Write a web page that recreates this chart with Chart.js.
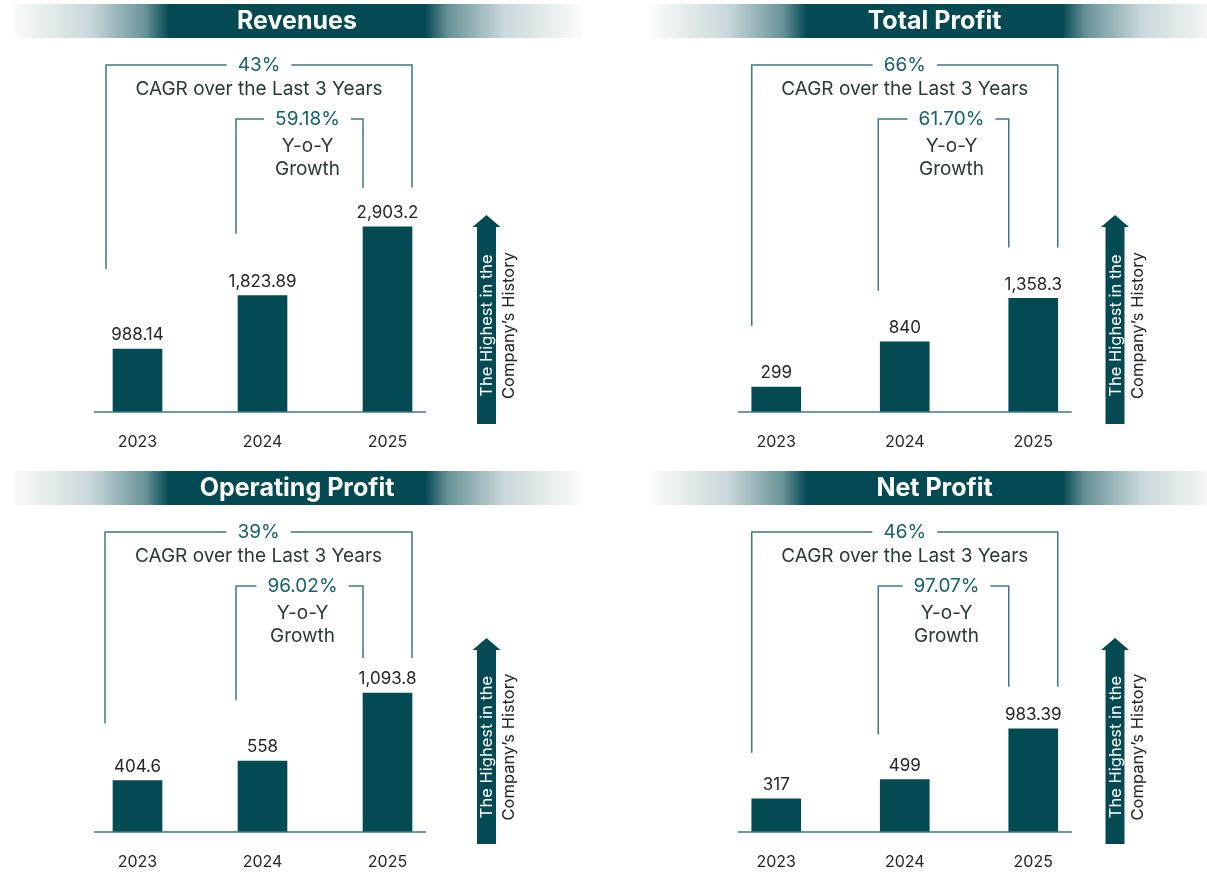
<!DOCTYPE html>
<html>
<head>
<meta charset="utf-8">
<script src="https://cdn.jsdelivr.net/npm/chart.js@4.4.1/dist/chart.umd.min.js"></script>
<style>
  html, body { margin: 0; background: #fff; }
  body { width: 1207px; height: 877px; position: relative; overflow: hidden; }
  .panel { position: absolute; }
</style>
</head>
<body>
<div class="panel" id="p0"><canvas id="revenueChart"></canvas></div>
<div class="panel" id="p1"><canvas id="totalProfitChart"></canvas></div>
<div class="panel" id="p2"><canvas id="operatingProfitChart"></canvas></div>
<div class="panel" id="p3"><canvas id="netProfitChart"></canvas></div>
<script>
// data
const years = ['2023', '2024', '2025'];
const titles = ['Revenues', 'Total Profit', 'Operating Profit', 'Net Profit'];
const revenues = [988.14, 1823.89, 2903.2];
const totalProfit = [299, 840, 1358.3];
const operatingProfit = [404.6, 558, 1093.8];
const netProfit = [317, 499, 983.39];
const cagr = ['43%', '66%', '39%', '46%'];
const yoy = ['59.18%', '61.70%', '96.02%', '97.07%'];
const cagrText = 'CAGR over the Last 3 Years';
const yoyText = ['Y-o-Y', 'Growth'];
const arrowText = ['The Highest in the', 'Company\u2019s History'];

const series = [revenues, totalProfit, operatingProfit, netProfit];
const canvasIds = ['revenueChart', 'totalProfitChart', 'operatingProfitChart', 'netProfitChart'];

// layout of each panel (pixels)
const layouts = [
    { left: 0, top: 0, width: 603, height: 460, plotLeft: 75, plotRight: 450, base: 412, pxPerUnit: 0.0638,
      bannerX: 297, arrowX: 486.5, arrowTop: 215, outerShift: -7, innerShift: 8, axisPad: [19, 14], tails: [80, 62, 39] },
    { left: 603, top: 0, width: 604, height: 460, plotLeft: 109, plotRight: 494.5, base: 412, pxPerUnit: 0.0836,
      bannerX: 331.5, arrowX: 512, arrowTop: 215, outerShift: 0, innerShift: 8, axisPad: [14, 14], tails: [61, 51, 51] },
    { left: 0, top: 467, width: 603, height: 410, plotLeft: 75, plotRight: 450, base: 365, pxPerUnit: 0.127,
      bannerX: 297, arrowX: 486.5, arrowTop: 171, outerShift: -8, innerShift: 3, axisPad: [19, 14], tails: [57, 61, 35] },
    { left: 603, top: 467, width: 604, height: 410, plotLeft: 109, plotRight: 494.5, base: 365, pxPerUnit: 0.105,
      bannerX: 331.5, arrowX: 512, arrowTop: 171, outerShift: 0, innerShift: 3, axisPad: [14, 14], tails: [46, 45, 42] }
];

const FONT = 'Inter, "Noto Sans", sans-serif';
const BAR = '#044a52';
const BANNER = '4,74,83';
const LINE = '#3d7a80';
const PCT = '#15626b';
const TEXT = '#2a3a37';
const LABEL = '#262626';
const PLOT_TOP = 50;

const fmt = new Intl.NumberFormat('en-US', { maximumFractionDigits: 2 });

const decorPlugin = {
    id: 'decor',
    beforeDraw(chart, args, o) {
        const ctx = chart.ctx;
        const cx = o.layout.bannerX, half = 284, dark = 128;
        const g = ctx.createLinearGradient(cx - half, 0, cx + half, 0);
        const a = (half - dark) / (2 * half);
        g.addColorStop(0, `rgba(${BANNER},0.02)`);
        g.addColorStop(a * 0.5, `rgba(${BANNER},0.22)`);
        g.addColorStop(a * 0.85, `rgba(${BANNER},0.6)`);
        g.addColorStop(a, `rgba(${BANNER},1)`);
        g.addColorStop(1 - a, `rgba(${BANNER},1)`);
        g.addColorStop(1 - a * 0.85, `rgba(${BANNER},0.6)`);
        g.addColorStop(1 - a * 0.5, `rgba(${BANNER},0.22)`);
        g.addColorStop(1, `rgba(${BANNER},0.02)`);
        ctx.save();
        ctx.fillStyle = g;
        ctx.fillRect(cx - half, 4, 2 * half, 34);
        ctx.fillStyle = '#fff';
        ctx.font = `bold 25px ${FONT}`;
        ctx.textAlign = 'center';
        ctx.textBaseline = 'middle';
        ctx.fillText(o.title, cx, 21);
        ctx.restore();
    },
    afterDatasetsDraw(chart, args, o) {
        const ctx = chart.ctx;
        const L = o.layout;
        const bars = chart.getDatasetMeta(0).data;
        const left = i => bars[i].x - bars[i].width / 2;
        const right = i => bars[i].x + bars[i].width / 2;
        ctx.save();

        // baseline
        ctx.strokeStyle = LINE;
        ctx.lineWidth = 1.5;
        ctx.beginPath();
        ctx.moveTo(left(0) - L.axisPad[0], L.base);
        ctx.lineTo(right(2) + L.axisPad[1], L.base);
        ctx.stroke();

        // value labels
        ctx.fillStyle = LABEL;
        ctx.font = `17px ${FONT}`;
        ctx.textAlign = 'center';
        ctx.textBaseline = 'middle';
        bars.forEach((b, i) => ctx.fillText(fmt.format(o.values[i]), b.x, b.y - 14));

        const pctFont = `19px ${FONT}`;
        function bracket(xL, xR, yTop, yBotL, yBotR, label, labelX) {
            ctx.font = pctFont;
            const w = ctx.measureText(label).width + 22;
            ctx.strokeStyle = LINE;
            ctx.lineWidth = 1.5;
            ctx.beginPath();
            ctx.moveTo(xL, yBotL);
            ctx.lineTo(xL, yTop);
            ctx.lineTo(labelX - w / 2, yTop);
            ctx.moveTo(labelX + w / 2, yTop);
            ctx.lineTo(xR, yTop);
            ctx.lineTo(xR, yBotR);
            ctx.stroke();
            ctx.fillStyle = PCT;
            ctx.fillText(label, labelX, yTop);
        }

        const rightBottom = bars[2].y - L.tails[2];
        const oL = left(0) + L.outerShift, oR = right(2);
        const oX = (oL + oR) / 2;
        bracket(oL, oR, 65, bars[0].y - L.tails[0], rightBottom, o.cagr, oX);
        ctx.fillStyle = TEXT;
        ctx.font = `19px ${FONT}`;
        ctx.fillText(cagrText, oX, 89);

        const iL = left(1) - 2, iR = left(2);
        const iX = (iL + iR) / 2 + L.innerShift;
        bracket(iL, iR, 119, bars[1].y - L.tails[1], rightBottom, o.yoy, iX);
        ctx.fillStyle = TEXT;
        ctx.font = `19px ${FONT}`;
        ctx.fillText(yoyText[0], iX, 146);
        ctx.fillText(yoyText[1], iX, 169);

        // arrow
        const ax = L.arrowX, top = L.arrowTop, bottom = L.base + 12;
        ctx.fillStyle = BAR;
        ctx.beginPath();
        ctx.moveTo(ax - 9.5, bottom);
        ctx.lineTo(ax - 9.5, top + 12);
        ctx.lineTo(ax - 14, top + 12);
        ctx.lineTo(ax, top);
        ctx.lineTo(ax + 14, top + 12);
        ctx.lineTo(ax + 9.5, top + 12);
        ctx.lineTo(ax + 9.5, bottom);
        ctx.closePath();
        ctx.fill();
        const mid = (top + 12 + bottom) / 2;
        ctx.font = `16.5px ${FONT}`;
        ctx.save();
        ctx.translate(ax, mid);
        ctx.rotate(-Math.PI / 2);
        ctx.fillStyle = '#fff';
        ctx.fillText(arrowText[0], 0, 1);
        ctx.restore();
        ctx.save();
        ctx.translate(ax + 22, mid);
        ctx.rotate(-Math.PI / 2);
        ctx.fillStyle = LABEL;
        ctx.fillText(arrowText[1], 0, 1);
        ctx.restore();

        ctx.restore();
    }
};

series.forEach((values, k) => {
    const L = layouts[k];
    const box = document.getElementById('p' + k);
    Object.assign(box.style, { left: L.left + 'px', top: L.top + 'px', width: L.width + 'px', height: L.height + 'px' });
    new Chart(document.getElementById(canvasIds[k]), {
        type: 'bar',
        data: {
            labels: years,
            datasets: [{ data: values, backgroundColor: BAR, borderWidth: 0, barThickness: 49 }]
        },
        options: {
            responsive: true,
            maintainAspectRatio: false,
            animation: false,
            layout: { padding: { left: L.plotLeft, right: L.width - L.plotRight, top: PLOT_TOP, bottom: 0 } },
            plugins: {
                legend: { display: false },
                tooltip: { enabled: false },
                decor: { layout: L, title: titles[k], values: values, cagr: cagr[k], yoy: yoy[k] }
            },
            scales: {
                x: {
                    grid: { display: false },
                    border: { display: false },
                    ticks: { color: LABEL, font: { family: FONT, size: 16 }, padding: 13 },
                    afterFit: scale => { scale.height = L.height - L.base; }
                },
                y: { display: false, min: 0, max: (L.base - PLOT_TOP) / L.pxPerUnit }
            }
        },
        plugins: [decorPlugin]
    });
});
</script>
</body>
</html>
